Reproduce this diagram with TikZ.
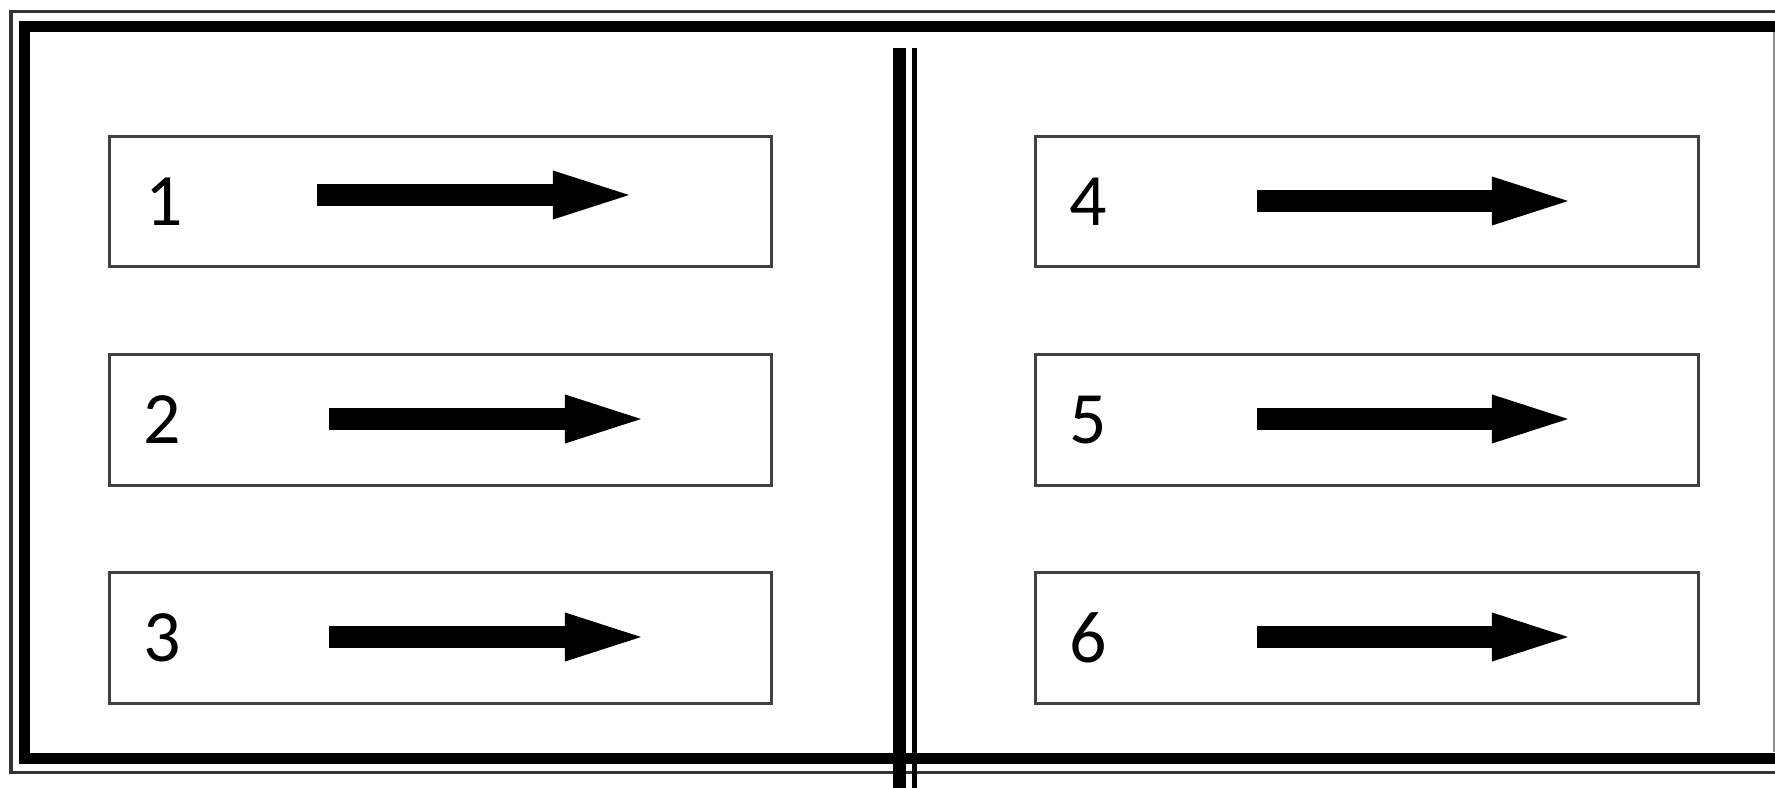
\documentclass[tikz,border=0pt]{standalone}
\usepackage{fontspec}
\setmainfont{Carlito}
\usepackage{tikz}
\usetikzlibrary{positioning, calc, arrows.meta}

\begin{document}
\begin{tikzpicture}[x=0.01cm, y=-0.01cm,
        lane/.style={
                draw=black!75,
                line width=0.03cm,
                minimum width=6.62cm,
                minimum height=1.30cm,
                inner sep=0pt,
        },
        lanenum/.style={
                inner sep=0pt,
                font=\fontsize{21pt}{24pt}\selectfont,
        },
        flow/.style={
                line width=0.22cm,
                -{Triangle[length=0.76cm 0 0, width=0.49cm 0 0, line width=0pt]},
        }]
            \useasboundingbox (0,0) rectangle (1775,788);
            \clip (0,0) rectangle (1775,788);
            % frame, cut off on the right
            \draw[line width=0.03cm, black!80] (11,12) rectangle (1900,772);
            \draw[line width=0.11cm] (24.5,27) rectangle (1900,758);
            \draw[line width=0.02cm, black!45] (1774,32) -- (1774,752);
            % double divider
            \draw[line width=0.13cm] (899.5,48) -- (899.5,820);
            \draw[line width=0.05cm] (914,48) -- (914,820);

            \node[lane] (lane1) at (440.5,201.5) {};
            \node[lane] (lane2) at (440.5,420) {};
            \node[lane] (lane3) at (440.5,638) {};
            \node[lane] (lane4) at (1367,201.5) {};
            \node[lane] (lane5) at (1367,420) {};
            \node[lane] (lane6) at (1367,638) {};

            \node[lanenum] (num1) at ([xshift=0.56cm]lane1.west) {1};
            \node[lanenum] (num2) at ([xshift=0.54cm]lane2.west) {2};
            \node[lanenum] (num3) at ([xshift=0.54cm]lane3.west) {3};
            \node[lanenum] (num4) at ([xshift=0.54cm]lane4.west) {4};
            \node[lanenum] (num5) at ([xshift=0.54cm]lane5.west) {5};
            \node[lanenum] (num6) at ([xshift=0.54cm]lane6.west) {6};

            \coordinate (from1) at (317,195);   \coordinate (to1) at (629,195);
            \coordinate (from2) at (329,419);   \coordinate (to2) at (641,419);
            \coordinate (from3) at (329,637);   \coordinate (to3) at (641,637);
            \coordinate (from4) at (1257,201);  \coordinate (to4) at (1568,201);
            \coordinate (from5) at (1257,419);  \coordinate (to5) at (1568,419);
            \coordinate (from6) at (1257,637);  \coordinate (to6) at (1568,637);
            \draw[flow] (from1) -- (to1);
            \draw[flow] (from2) -- (to2);
            \draw[flow] (from3) -- (to3);
            \draw[flow] (from4) -- (to4);
            \draw[flow] (from5) -- (to5);
            \draw[flow] (from6) -- (to6);
        \end{tikzpicture}
\end{document}
